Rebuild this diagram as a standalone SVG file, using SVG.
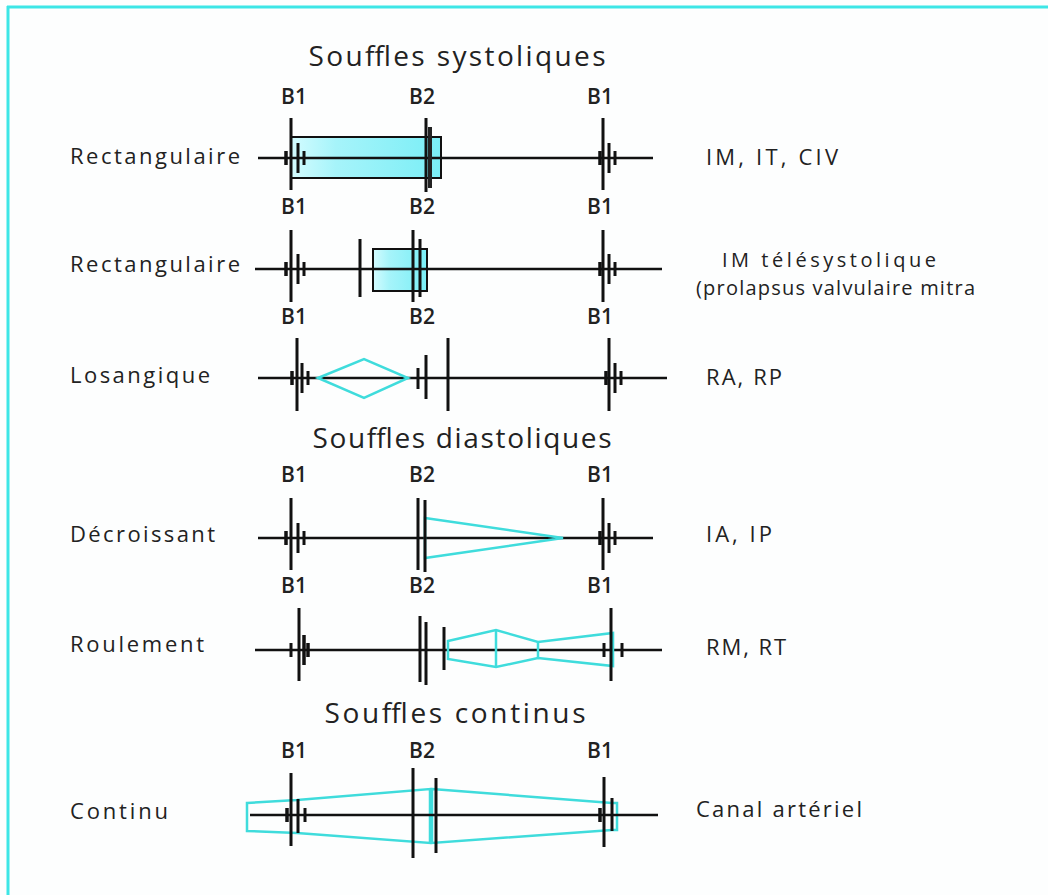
<svg xmlns="http://www.w3.org/2000/svg" width="1048" height="895" viewBox="0 0 1048 895">
<defs>
<linearGradient id="cy" x1="0" y1="0" x2="1" y2="0">
<stop offset="0" stop-color="#d4fcff"/>
<stop offset="0.3" stop-color="#a6f4fa"/>
<stop offset="1" stop-color="#7aeef6"/>
</linearGradient>
<style>
text{font-family:"Open Sans","Liberation Sans",sans-serif;fill:#222;}
.t{font-size:28px;text-anchor:middle;}
.l{font-size:22px;}
.s{font-size:20px;}
.b{font-size:21px;text-anchor:middle;font-weight:600;}
.ax{stroke:#111;stroke-width:2.5;fill:none;}
.v{stroke:#111;stroke-width:3;fill:none;}
.tk{stroke:#111;stroke-width:3.5;fill:none;}
.cy{stroke:#3fdcdc;stroke-width:2.5;fill:none;}
.fr{stroke:#3de6e6;stroke-width:3;fill:none;}
</style>
</defs>
<rect width="1048" height="895" fill="#fdfefe"/>
<g id="frame">
<line class="fr" x1="7" y1="7" x2="1048" y2="7"/>
<line class="fr" x1="8" y1="6" x2="8" y2="895"/>
</g>
<g id="titles">
<text class="t" x="457" y="66" textLength="297" lengthAdjust="spacing">Souffles systoliques</text>
<text class="t" x="462" y="448" textLength="299" lengthAdjust="spacing">Souffles diastoliques</text>
<text class="t" x="455" y="723" textLength="261" lengthAdjust="spacing">Souffles continus</text>
</g>
<g id="row1">
<text class="l" x="70" y="164" textLength="170" lengthAdjust="spacing">Rectangulaire</text>
<text class="b" x="294" y="104">B1</text><text class="b" x="422" y="104">B2</text><text class="b" x="600" y="104">B1</text>
<rect x="291" y="137" width="150" height="41" fill="url(#cy)" stroke="#111" stroke-width="2"/>
<line class="ax" x1="258" y1="158" x2="653" y2="158"/>
<line class="v" x1="291" y1="118" x2="291" y2="190"/>
<line class="tk" x1="286" y1="151" x2="286" y2="165"/><line class="v" x1="298" y1="143" x2="298" y2="173"/><line class="v" x1="304" y1="151" x2="304" y2="165"/>
<line class="v" x1="426" y1="118" x2="426" y2="192"/>
<line stroke="#222" stroke-width="4" x1="430" y1="127" x2="430" y2="188"/>
<line class="v" x1="603" y1="118" x2="603" y2="190"/>
<line class="tk" x1="600" y1="151" x2="600" y2="165"/><line class="v" x1="609" y1="143" x2="609" y2="173"/><line class="v" x1="615" y1="151" x2="615" y2="165"/>
<text class="l" x="706" y="165" textLength="132" lengthAdjust="spacing">IM, IT, CIV</text>
</g>
<g id="row2">
<text class="l" x="70" y="272" textLength="170" lengthAdjust="spacing">Rectangulaire</text>
<text class="b" x="294" y="214">B1</text><text class="b" x="422" y="214">B2</text><text class="b" x="600" y="214">B1</text>
<rect x="373" y="249" width="54" height="42" fill="url(#cy)" stroke="#111" stroke-width="2"/>
<line class="ax" x1="255" y1="269" x2="662" y2="269"/>
<line class="v" x1="291" y1="230" x2="291" y2="302"/>
<line class="tk" x1="286" y1="262" x2="286" y2="276"/><line class="v" x1="298" y1="254" x2="298" y2="284"/><line class="v" x1="304" y1="262" x2="304" y2="276"/>
<line class="v" x1="360" y1="239" x2="360" y2="297"/>
<line class="v" x1="413" y1="230" x2="413" y2="302"/>
<line class="v" x1="420" y1="239" x2="420" y2="297"/>
<line class="v" x1="603" y1="230" x2="603" y2="302"/>
<line class="tk" x1="600" y1="262" x2="600" y2="276"/><line class="v" x1="609" y1="254" x2="609" y2="284"/><line class="v" x1="615" y1="262" x2="615" y2="276"/>
<text class="s" x="722" y="267" textLength="214" lengthAdjust="spacing">IM télésystolique</text>
<text class="s" x="696" y="295" textLength="279" lengthAdjust="spacing">(prolapsus valvulaire mitra</text>
</g>
<g id="row3">
<text class="l" x="70" y="383" textLength="140" lengthAdjust="spacing">Losangique</text>
<text class="b" x="294" y="324">B1</text><text class="b" x="422" y="324">B2</text><text class="b" x="600" y="324">B1</text>
<line class="ax" x1="258" y1="378" x2="667" y2="378"/>
<polygon class="cy" points="318,378 364,359 408,378 364,398"/>
<line class="v" x1="297" y1="338" x2="297" y2="411"/>
<line class="tk" x1="292" y1="371" x2="292" y2="385"/><line class="v" x1="302" y1="363" x2="302" y2="393"/><line class="v" x1="308" y1="371" x2="308" y2="385"/>
<line class="v" x1="418" y1="368" x2="418" y2="389"/>
<line class="v" x1="426" y1="355" x2="426" y2="399"/>
<line class="v" x1="448" y1="338" x2="448" y2="411"/>
<line class="v" x1="609" y1="338" x2="609" y2="411"/>
<line class="tk" x1="606" y1="371" x2="606" y2="385"/><line class="v" x1="615" y1="363" x2="615" y2="393"/><line class="v" x1="621" y1="371" x2="621" y2="385"/>
<text class="l" x="706" y="385" textLength="76" lengthAdjust="spacing">RA, RP</text>
</g>
<g id="row4">
<text class="l" x="70" y="542" textLength="145" lengthAdjust="spacing">Décroissant</text>
<text class="b" x="294" y="482">B1</text><text class="b" x="422" y="482">B2</text><text class="b" x="600" y="482">B1</text>
<line class="ax" x1="258" y1="538" x2="653" y2="538"/>
<polygon class="cy" points="425,518 563,538 425,558"/>
<line class="v" x1="291" y1="498" x2="291" y2="570"/>
<line class="tk" x1="286" y1="531" x2="286" y2="545"/><line class="v" x1="298" y1="523" x2="298" y2="553"/><line class="v" x1="304" y1="531" x2="304" y2="545"/>
<line class="v" x1="418" y1="498" x2="418" y2="570"/>
<line class="v" x1="425" y1="500" x2="425" y2="572"/>
<line class="v" x1="603" y1="498" x2="603" y2="570"/>
<line class="tk" x1="600" y1="531" x2="600" y2="545"/><line class="v" x1="609" y1="523" x2="609" y2="553"/><line class="v" x1="615" y1="531" x2="615" y2="545"/>
<text class="l" x="706" y="542" textLength="66" lengthAdjust="spacing">IA, IP</text>
</g>
<g id="row5">
<text class="l" x="70" y="652" textLength="134" lengthAdjust="spacing">Roulement</text>
<text class="b" x="294" y="593">B1</text><text class="b" x="422" y="593">B2</text><text class="b" x="600" y="593">B1</text>
<line class="ax" x1="255" y1="650" x2="662" y2="650"/>
<polygon class="cy" points="448,641 496,630 538,642 613,633 613,666 538,658 496,667 448,659"/>
<line class="cy" x1="496" y1="630" x2="496" y2="667"/>
<line class="cy" x1="538" y1="642" x2="538" y2="658"/>
<line class="v" x1="299" y1="608" x2="299" y2="681"/>
<line class="v" x1="291" y1="643" x2="291" y2="657"/><line class="tk" x1="304" y1="635" x2="304" y2="665"/><line class="tk" x1="308" y1="643" x2="308" y2="657"/>
<line class="v" x1="420" y1="616" x2="420" y2="682"/>
<line class="v" x1="426" y1="622" x2="426" y2="685"/>
<line class="v" x1="444" y1="627" x2="444" y2="670"/>
<line class="v" x1="611" y1="608" x2="611" y2="681"/>
<line class="v" x1="604" y1="643" x2="604" y2="657"/><line class="v" x1="622" y1="643" x2="622" y2="657"/>
<text class="l" x="706" y="655" textLength="80" lengthAdjust="spacing">RM, RT</text>
</g>
<g id="row6">
<text class="l" x="70" y="819" textLength="98" lengthAdjust="spacing">Continu</text>
<text class="b" x="294" y="758">B1</text><text class="b" x="422" y="758">B2</text><text class="b" x="600" y="758">B1</text>
<polygon class="cy" points="247,803 297,800 430,789 430,843 297,833 247,831"/>
<polygon class="cy" points="432,789 612,803 617,803 617,830 612,830 432,843"/>
<line class="ax" x1="250" y1="815" x2="658" y2="815"/>
<line class="v" x1="291" y1="773" x2="291" y2="846"/>
<line class="tk" x1="287" y1="808" x2="287" y2="822"/><line class="v" x1="298" y1="799" x2="298" y2="833"/><line class="v" x1="305" y1="808" x2="305" y2="822"/>
<line class="v" x1="413" y1="768" x2="413" y2="858"/>
<line class="v" x1="436" y1="778" x2="436" y2="853"/>
<line class="v" x1="604" y1="777" x2="604" y2="847"/>
<line class="tk" x1="600" y1="808" x2="600" y2="822"/><line class="v" x1="612" y1="798" x2="612" y2="831"/>
<text class="l" x="696" y="817" textLength="166" lengthAdjust="spacing">Canal artériel</text>
</g>
</svg>
